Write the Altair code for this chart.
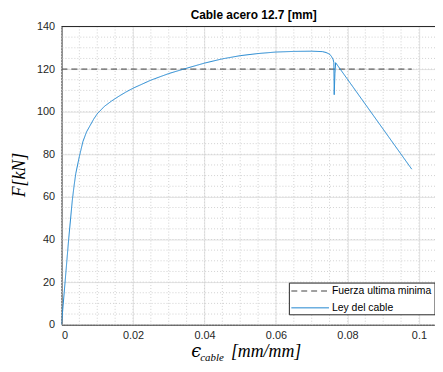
import altair as alt
import pandas as pd

# ---- data ----
cable_x = [0.0, 0.001, 0.002, 0.003, 0.0035, 0.004, 0.005, 0.006, 0.007, 0.008, 0.009,
           0.010, 0.012, 0.014, 0.016, 0.018, 0.020, 0.025, 0.030, 0.035, 0.040,
           0.045, 0.050, 0.055, 0.060, 0.065, 0.070, 0.073, 0.074, 0.075, 0.0755,
           0.0760, 0.0762, 0.0763, 0.0765, 0.0767, 0.0980]
cable_y = [0.0, 20.0, 40.0, 58.0, 65.0, 71.0, 79.0, 86.0, 90.5, 93.5, 96.5,
           99.0, 102.5, 105.0, 107.2, 109.2, 111.0, 114.8, 117.9, 120.4, 122.8,
           124.8, 126.3, 127.3, 128.0, 128.3, 128.4, 128.2, 127.8, 127.0, 126.0,
           124.5, 123.0, 108.0, 118.0, 123.0, 73.0]
fuerza_x = [0.0, 0.098]
fuerza_y = [120.0, 120.0]
series = ["Fuerza ultima minima", "Ley del cable"]
x_ticks = [0, 0.02, 0.04, 0.06, 0.08, 0.1]
y_ticks = [0, 20, 40, 60, 80, 100, 120, 140]
x_minor = [round(0.005 * i, 3) for i in range(0, 21)]
y_minor = [5 * i for i in range(0, 29)]
title_text = "Cable acero 12.7 [mm]"
colors = ["#404040", "#1f86cf"]

W, H = 377, 301
XDOM = [0, 0.1045]
YDOM = [0, 140]

rows = []
for i, (xv, yv) in enumerate(zip(fuerza_x, fuerza_y)):
    rows.append({"x": xv, "y": yv, "serie": series[0], "idx": i})
for i, (xv, yv) in enumerate(zip(cable_x, cable_y)):
    rows.append({"x": xv, "y": yv, "serie": series[1], "idx": i})
df = pd.DataFrame(rows)

xscale = alt.Scale(domain=XDOM, nice=False, zero=False)
yscale = alt.Scale(domain=YDOM, nice=False)

minor_x = alt.Chart(pd.DataFrame({"v": x_minor})).mark_rule(
    color="#d0d0d0", strokeDash=[1, 2], strokeWidth=1
).encode(x=alt.X("v:Q", scale=xscale))
minor_y = alt.Chart(pd.DataFrame({"v": y_minor})).mark_rule(
    color="#d0d0d0", strokeDash=[1, 2], strokeWidth=1
).encode(y=alt.Y("v:Q", scale=yscale))

lines = alt.Chart(df).mark_line(strokeWidth=1, clip=True).encode(
    x=alt.X("x:Q", scale=xscale,
            axis=alt.Axis(values=x_ticks, title=None, grid=True, gridColor="#e3e3e3",
                          labelExpr="datum.value == 0 ? '0' : format(datum.value, '.2~f')")),
    y=alt.Y("y:Q", scale=yscale,
            axis=alt.Axis(values=y_ticks, title=None, grid=True, gridColor="#e3e3e3")),
    color=alt.Color("serie:N", scale=alt.Scale(domain=series, range=colors), legend=None),
    strokeDash=alt.StrokeDash("serie:N", scale=alt.Scale(domain=series, range=[[6, 4], [1, 0]]),
                              legend=None),
    order=alt.Order("idx:Q"),
)

one = pd.DataFrame({"a": [0]})
top_border = alt.Chart(one).mark_rule(color="#262626", strokeWidth=1).encode(
    x=alt.value(0), x2=alt.value(W), y=alt.value(0)
)

# manual legend box (bottom-right, inside plot)
LX0, LX1, LY0, LY1 = 230, 377, 259, 291
leg_box = alt.Chart(one).mark_rect(fill="white", stroke="#262626", strokeWidth=1).encode(
    x=alt.value(LX0), x2=alt.value(LX1), y=alt.value(LY0), y2=alt.value(LY1)
)
leg_l1 = alt.Chart(one).mark_rule(color=colors[0], strokeDash=[6, 4], strokeWidth=1).encode(
    x=alt.value(LX0 + 2), x2=alt.value(LX0 + 40), y=alt.value(LY0 + 8)
)
leg_l2 = alt.Chart(one).mark_rule(color=colors[1], strokeWidth=1).encode(
    x=alt.value(LX0 + 2), x2=alt.value(LX0 + 40), y=alt.value(LY0 + 25)
)

def txt(s, x, y, size, font, style="italic", weight="normal", angle=0, align="left",
        baseline="alphabetic"):
    return alt.Chart(pd.DataFrame({"t": [s]})).mark_text(
        font=font, fontSize=size, fontStyle=style, fontWeight=weight, align=align,
        baseline=baseline, angle=angle, color="#000000"
    ).encode(x=alt.value(x), y=alt.value(y), text="t:N")

leg_t1 = txt(series[0], LX0 + 43, LY0 + 8, 10.5, "Liberation Sans", style="normal", baseline="middle")
leg_t2 = txt(series[1], LX0 + 43, LY0 + 25, 10.5, "Liberation Sans", style="normal", baseline="middle")

ttl = txt(title_text, 194, -12, 12, "Liberation Sans", style="normal", weight="bold",
          align="center", baseline="middle")
xt1 = txt("ϵ", 131, 334, 18, "DejaVu Serif")
xt2 = txt("cable", 140, 338, 11, "Liberation Serif")
xt3 = txt("[mm/mm]", 171, 334, 18, "Liberation Serif")
yt = txt("F[kN]", -42, 150, 18, "Liberation Serif", angle=270, align="center", baseline="middle")

chart = alt.layer(minor_x, minor_y, lines, top_border, leg_box, leg_l1, leg_l2, leg_t1, leg_t2,
                  ttl, xt1, xt2, xt3, yt).properties(
    width=W, height=H,
    autosize=alt.AutoSizeParams(type="none"),
    padding={"left": 54, "top": 17, "right": 0, "bottom": 36},
).configure_view(stroke=None).configure_axis(
    domainColor="#262626", labelColor="#262626", labelFont="Liberation Sans",
    labelFontSize=11, ticks=False, labelPadding=5,
).configure_axisY(labelPadding=7)

chart.save("out.html", embed_options={"renderer": "svg", "actions": False})
